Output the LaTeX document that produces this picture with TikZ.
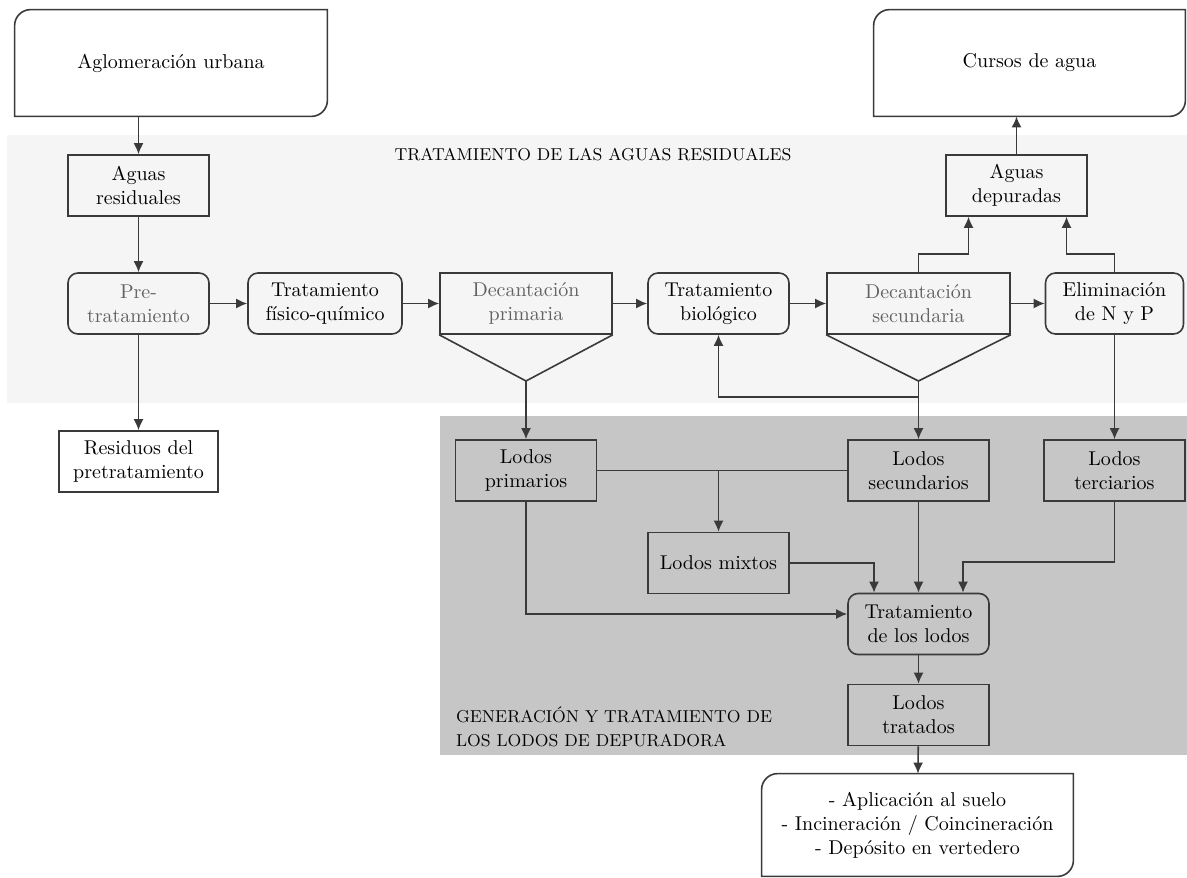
\documentclass[tikz,border=0pt]{standalone}
\usepackage{tikz}
\usetikzlibrary{positioning}
\usetikzlibrary{calc}
\usetikzlibrary{arrows.meta}

\definecolor{linegray}{HTML}{3A3A3A}
\definecolor{textgray}{HTML}{626262}
\definecolor{bgtop}{HTML}{F5F5F5}
\definecolor{bglow}{HTML}{C6C6C6}

% border with rounded top left and bottom right corners
\newcommand{\leafborder}[1]{%
  \draw [boxline] (#1.south west) -- ([yshift=-8pt]#1.north west) arc (180:90:8pt)
    -- (#1.north east) -- ([yshift=8pt]#1.south east) arc (0:-90:8pt) -- cycle;}

\begin{document}
\begin{tikzpicture}[x=0.5pt, y=0.5pt,
  boxline/.style={draw=linegray, line width=0.8pt},
  box/.style={boxline, minimum width=70.5pt, minimum height=30.5pt, align=center, inner sep=2pt},
  rbox/.style={box, rounded corners=5pt},
  leaf/.style={minimum height=53pt, align=center},
  zone/.style={font=\fontsize{8.6pt}{12pt}\selectfont},
  flow/.style={draw=linegray, line width=0.8pt, -{Latex[length=5.5pt,width=5pt]}},
  link/.style={draw=linegray, line width=0.8pt}]

\useasboundingbox (0,0) rectangle (1187,-877);

% shaded zones
\fill [bgtop] (7,-135) rectangle (1187,-403);
\fill [bglow] (440,-416) rectangle (1187,-755);

\node (ttop) [zone] at (593,-155) {TRATAMIENTO DE LAS AGUAS RESIDUALES};
\node (tlow) [zone, anchor=west, align=left] at (449,-727) {GENERACIÓN Y TRATAMIENTO DE\\LOS LODOS DE DEPURADORA};

% outside
\node (agl) [leaf, minimum width=156pt] at (171,-63) {Aglomeración urbana};
\node (cur) [leaf, minimum width=155.5pt] at (1029.5,-63) {Cursos de agua};
\node (dest) [minimum width=155.5pt, minimum height=51pt, align=center] at (917.5,-825)
  {- Aplicación al suelo\\- Incineración / Coincineración\\- Depósito en vertedero};
\leafborder{agl}
\leafborder{cur}
\leafborder{dest}

% water line
\node (ares) [box] at (138.5,-185.5) {Aguas\\residuales};
\node (pre) [rbox, text=textgray] at (138.5,-303.5) {Pre-\\tratamiento};
\node (tfq) [rbox, minimum width=77pt] at (325,-303.5) {Tratamiento\\físico-químico};
\node (dp) [box, minimum width=86pt, text=textgray] at (526,-303.5) {Decantación\\primaria};
\node (tb) [rbox] at (718.5,-303.5) {Tratamiento\\biológico};
\node (ds) [box, minimum width=91.5pt, text=textgray] at (918.5,-303.5) {Decantación\\secundaria};
\node (enp) [rbox, minimum width=69pt] at (1114.5,-303.5) {Eliminación\\de N y P};
\node (adep) [box] at (1016.5,-185.5) {Aguas\\depuradas};
\node (res) [box, minimum width=79.5pt] at (138.5,-461.5) {Residuos del\\pretratamiento};

% funnels
\coordinate (dpv) at (526,-381);
\coordinate (dsv) at (918.5,-381);
\draw [boxline] (dp.south west) -- (dpv) -- (dp.south east);
\draw [boxline] (ds.south west) -- (dsv) -- (ds.south east);

% sludge line
\node (lp) [box] at (526,-470.5) {Lodos\\primarios};
\node (ls) [box] at (918.5,-470.5) {Lodos\\secundarios};
\node (lt) [box] at (1114.5,-470.5) {Lodos\\terciarios};
\node (lm) [box] at (718.5,-563) {Lodos mixtos};
\node (tl) [rbox] at (918.5,-624) {Tratamiento\\de los lodos};
\node (ltr) [box] at (918.5,-715) {Lodos\\tratados};

\draw [flow] (ares.north |- agl.south) -- (ares.north);
\draw [flow] (ares) -- (pre);
\draw [flow] (pre) -- (tfq);
\draw [flow] (tfq) -- (dp);
\draw [flow] (dp) -- (tb);
\draw [flow] (tb) -- (ds);
\draw [flow] (ds) -- (enp);
\draw [flow] (pre) -- (res);
\draw [flow] (adep.north) -- (adep.north |- cur.south);
\draw [flow] (ds.north) -- ++(0,18) -| ([xshift=-24pt]adep.south);
\draw [flow] (enp.north) -- ++(0,18) -| ([xshift=25pt]adep.south);
\draw [flow] (dsv) -- ++(0,-16) -| (tb.south);
\draw [flow] (dsv) -- (ls.north);
\draw [flow] (dpv) -- (lp.north);
\draw [flow] (enp) -- (lt);

\draw [link] (lp) -- (ls);
\draw [flow] (lm.north |- lp.east) -- (lm.north);
\draw [flow] (lp.south) |- ([yshift=5pt]tl.west);
\draw [flow] (lm.east) -| ([xshift=-22.25pt]tl.north);
\draw [flow] (ls) -- (tl);
\draw [flow] (lt.south) -- ++(0,-60) -| ([xshift=22.25pt]tl.north);
\draw [flow] (tl) -- (ltr);
\draw [flow] (ltr) -- (dest);

\end{tikzpicture}
\end{document}
